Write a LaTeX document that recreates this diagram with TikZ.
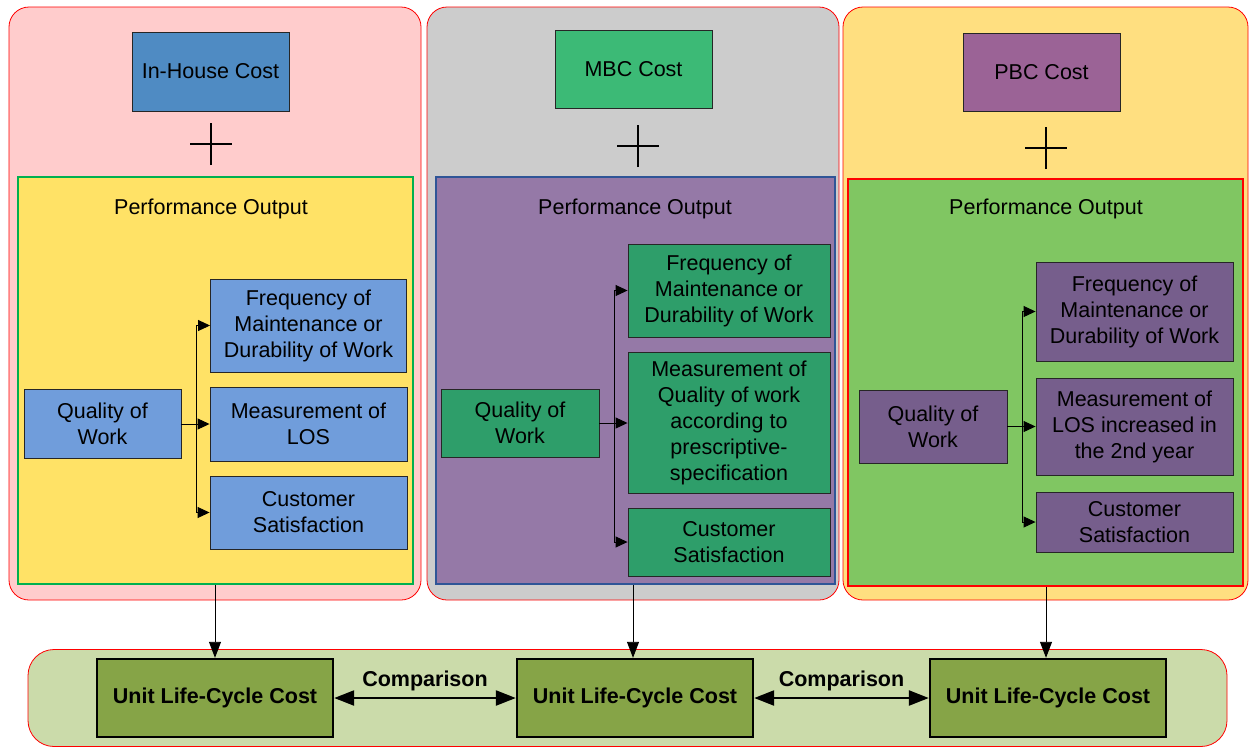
\documentclass[tikz,border=0pt]{standalone}
\usepackage{fontspec}
\setmainfont{Liberation Sans}
\usetikzlibrary{arrows.meta}

\definecolor{pinkbg}{RGB}{255,204,204}
\definecolor{greybg}{RGB}{204,204,204}
\definecolor{amberbg}{RGB}{255,223,128}
\definecolor{yellowin}{RGB}{255,226,102}
\definecolor{purplein}{RGB}{149,121,167}
\definecolor{greenin}{RGB}{128,198,98}
\definecolor{greenedge}{RGB}{0,176,80}
\definecolor{blueedge}{RGB}{47,85,151}
\definecolor{bluebox}{RGB}{112,157,219}
\definecolor{bluehead}{RGB}{79,139,195}
\definecolor{greenbox}{RGB}{46,158,106}
\definecolor{greenhead}{RGB}{60,186,118}
\definecolor{violetbox}{RGB}{118,94,140}
\definecolor{violethead}{RGB}{155,99,150}
\definecolor{olivebg}{RGB}{203,219,170}
\definecolor{olivebox}{RGB}{134,164,71}

\begin{document}
\begin{tikzpicture}[x=1pt,y=-1pt,
  font=\fontsize{21.5}{26}\selectfont,
  panel/.style={draw=red, line width=0.8pt, rounded corners=20pt, inner sep=0pt},
  frame/.style={line width=2.6pt, inner sep=0pt},
  box/.style={draw=black!85, line width=0.9pt, inner sep=0pt, align=center},
  unitbox/.style={draw=black, line width=2.4pt, fill=olivebox, inner sep=0pt,
    minimum width=236pt, minimum height=78pt, font=\fontsize{21.5}{26}\selectfont\bfseries},
  branch/.style={line width=0.9pt, -{Triangle[length=12pt,width=11pt]}},
  feed/.style={line width=0.9pt, -{Triangle[length=16pt,width=12pt]}},
  compare/.style={line width=2.4pt, {Triangle[length=20pt,width=15pt]}-{Triangle[length=20pt,width=15pt]}},
  plusmark/.style={line width=2.4pt}
]
\useasboundingbox (0,0) rectangle (1249,748);

% ---------- outer panels ----------
\node[panel, fill=pinkbg, minimum width=412pt, minimum height=593pt] (outer1) at (215,303.5) {};
\node[panel, fill=greybg, minimum width=412pt, minimum height=593pt] (outer2) at (633,303.5) {};
\node[panel, fill=amberbg, minimum width=405pt, minimum height=593pt] (outer3) at (1045.5,303.5) {};

% ---------- cost headers and plus signs ----------
\node[box, fill=bluehead, minimum width=157pt, minimum height=79pt] (top1) at (210.5,71.5) {In-House Cost};
\node[box, fill=greenhead, minimum width=157pt, minimum height=78pt] (top2) at (633.5,69) {MBC Cost};
\node[box, fill=violethead, minimum width=157pt, minimum height=78pt] (top3) at (1041.5,72) {PBC Cost};

\coordinate (plus1) at (211,144);
\coordinate (plus2) at (638,146);
\coordinate (plus3) at (1046,148);
\foreach \p in {plus1,plus2,plus3}{
  \draw[plusmark] ([xshift=-21pt]\p) -- ([xshift=21pt]\p);
  \draw[plusmark] ([yshift=-21pt]\p) -- ([yshift=21pt]\p);
}

% ---------- performance output frames ----------
\node[frame, draw=greenedge, fill=yellowin, minimum width=395pt, minimum height=407pt] (inner1) at (215.5,380.5) {};
\node[frame, draw=blueedge, fill=purplein, minimum width=399pt, minimum height=407pt] (inner2) at (635.5,380.5) {};
\node[frame, draw=red, fill=greenin, minimum width=395pt, minimum height=407pt] (inner3) at (1045.5,382.5) {};

\node (po1) at (211,209) {Performance Output};
\node (po2) at (635,209) {Performance Output};
\node (po3) at (1046,209) {Performance Output};

% ---------- In-House panel ----------
\node[box, fill=bluebox, minimum width=157pt, minimum height=69pt] (q1) at (102.5,424) {Quality of\\Work};
\node[box, fill=bluebox, minimum width=196pt, minimum height=93pt] (f1) at (308.5,325.5) {Frequency of\\Maintenance or\\Durability of Work};
\node[box, fill=bluebox, minimum width=197pt, minimum height=74pt] (m1) at (308.5,424) {Measurement of\\LOS};
\node[box, fill=bluebox, minimum width=197pt, minimum height=73pt] (c1) at (308.5,512.5) {Customer\\Satisfaction};
\draw[branch] (q1.east) -- ++(15,0) |- (f1.west);
\draw[branch] (q1.east) -- (m1.west);
\draw[branch] (q1.east) -- ++(15,0) |- (c1.west);

% ---------- MBC panel ----------
\node[box, fill=greenbox, minimum width=158pt, minimum height=68pt] (q2) at (520,423) {Quality of\\Work};
\node[box, fill=greenbox, minimum width=202pt, minimum height=93pt] (f2) at (729,290.5) {Frequency of\\Maintenance or\\Durability of Work};
\node[box, fill=greenbox, minimum width=202pt, minimum height=141pt] (m2) at (729,423) {Measurement of\\Quality of work\\according to\\prescriptive-\\specification};
\node[box, fill=greenbox, minimum width=202pt, minimum height=68pt] (c2) at (729,542) {Customer\\Satisfaction};
\draw[branch] (q2.east) -- ++(15,0) |- (f2.west);
\draw[branch] (q2.east) -- (m2.west);
\draw[branch] (q2.east) -- ++(15,0) |- (c2.west);

% ---------- PBC panel ----------
\node[box, fill=violetbox, minimum width=148pt, minimum height=73pt] (q3) at (933,426.5) {Quality of\\Work};
\node[box, fill=violetbox, minimum width=197pt, minimum height=99pt] (f3) at (1134.5,311.5) {Frequency of\\Maintenance or\\Durability of Work};
\node[box, fill=violetbox, minimum width=197pt, minimum height=97pt] (m3) at (1134.5,426.5) {Measurement of\\LOS increased in\\the 2nd year};
\node[box, fill=violetbox, minimum width=197pt, minimum height=60pt] (c3) at (1134.5,522) {Customer\\Satisfaction};
\draw[branch] (q3.east) -- ++(15,0) |- (f3.west);
\draw[branch] (q3.east) -- (m3.west);
\draw[branch] (q3.east) -- ++(15,0) |- (c3.west);

% ---------- life-cycle cost comparison ----------
\node[draw=red, line width=0.8pt, fill=olivebg, rounded corners=26pt, inner sep=0pt,
      minimum width=1199pt, minimum height=97pt] (base) at (627.5,698) {};
\node[unitbox] (u1) at (215,698) {Unit Life-Cycle Cost};
\node[unitbox] (u2) at (635,698) {Unit Life-Cycle Cost};
\node[unitbox] (u3) at (1048,698) {Unit Life-Cycle Cost};

\draw[compare] (u1.east) -- node[above=3pt, font=\fontsize{21.5}{26}\selectfont\bfseries] (cmp1) {Comparison} (u2.west);
\draw[compare] (u2.east) -- node[above=3pt, font=\fontsize{21.5}{26}\selectfont\bfseries] (cmp2) {Comparison} (u3.west);

\draw[feed] (u1.north |- inner1.south) -- (u1.north);
\draw[feed] ([xshift=-2pt]u2.north |- inner2.south) -- ([xshift=-2pt]u2.north);
\draw[feed] ([xshift=-2pt]u3.north |- inner3.south) -- ([xshift=-2pt]u3.north);
\end{tikzpicture}
\end{document}
